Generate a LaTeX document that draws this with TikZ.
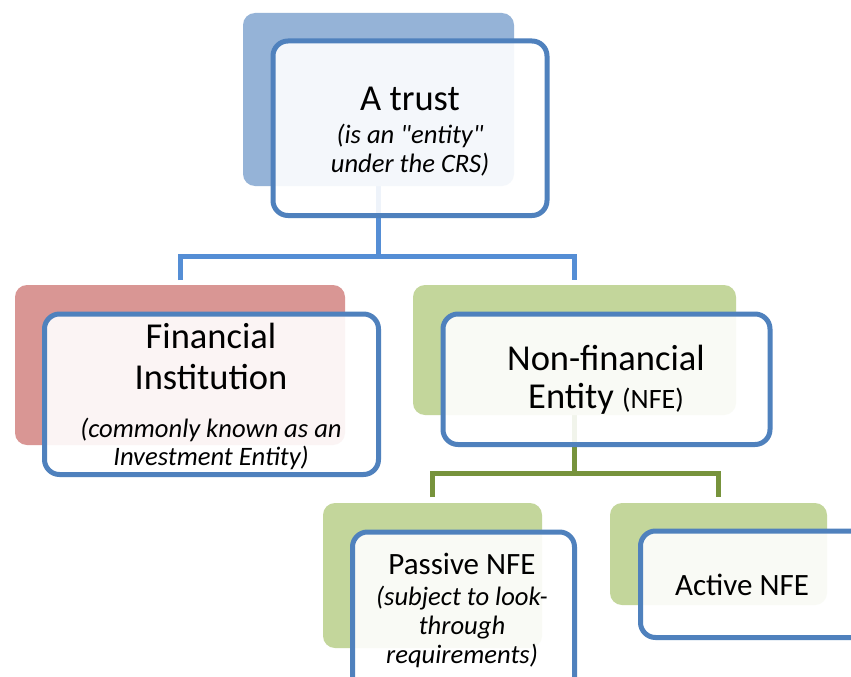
\documentclass[tikz,border=0pt]{standalone}
\usepackage{fontspec}
\newfontfamily\carl{Carlito}
\definecolor{backblue}{HTML}{95B3D7}
\definecolor{backred}{HTML}{D99694}
\definecolor{backgreen}{HTML}{C3D69B}
\definecolor{frontblue}{HTML}{4F81BD}
\definecolor{connblue}{HTML}{558ED5}
\definecolor{conngreen}{HTML}{77933C}
\begin{document}
\begin{tikzpicture}[x=1pt,y=-1pt,
  backbox/.style={rectangle, draw=none, rounded corners=12pt, inner sep=0pt, outer sep=0pt},
  frontbox/.style={rectangle, draw=frontblue, line width=5pt, fill=white, fill opacity=0.9, rounded corners=15pt, inner sep=0pt, outer sep=0pt},
  bconn/.style={draw=connblue, line width=5pt},
  gconn/.style={draw=conngreen, line width=5pt},
  bigtxt/.style={anchor=base, inner sep=0pt, font=\carl\fontsize{36.5}{40}\selectfont},
  midtxt/.style={anchor=base, inner sep=0pt, font=\carl\fontsize{31}{36}\selectfont},
  ittxt/.style={anchor=base, inner sep=0pt, font=\carl\fontsize{26.6}{30}\selectfont\itshape}]
\clip (0,0) rectangle (851,677);
\fill[white] (0,0) rectangle (851,677);
% coordinates for junctions
\coordinate (bj) at (378.5,256.5);
\coordinate (gj) at (574.5,473);
% back boxes (named)
\path (378.5,99.5) node[backbox, minimum width=271pt, minimum height=173pt] (topb) {};
\path (180,365) node[backbox, minimum width=330pt, minimum height=160pt] (fib) {};
\path (574.5,350) node[backbox, minimum width=323pt, minimum height=130pt] (nfeb) {};
\path (432.5,575.5) node[backbox, minimum width=219pt, minimum height=145pt] (pasb) {};
\path (718.5,554) node[backbox, minimum width=217pt, minimum height=102pt] (actb) {};
% connectors
\draw[bconn] (topb.south) -- (bj);
\draw[bconn] ([yshift=5pt]fib.north) |- (bj) -| ([yshift=5pt]nfeb.north);
\draw[gconn] (nfeb.south) -- (gj);
\draw[gconn] ([yshift=6pt]pasb.north) |- (gj) -| ([yshift=6pt]actb.north);
% back fills
\fill[backblue, rounded corners=12pt] (topb.north west) rectangle (topb.south east);
\fill[backred, rounded corners=12pt] (fib.north west) rectangle (fib.south east);
\fill[backgreen, rounded corners=12pt] (nfeb.north west) rectangle (nfeb.south east);
\fill[backgreen, rounded corners=12pt] (pasb.north west) rectangle (pasb.south east);
\fill[backgreen, rounded corners=12pt] (actb.north west) rectangle (actb.south east);
% front boxes
\node[frontbox, minimum width=274pt, minimum height=174.5pt] (topf) at (410,128.25) {};
\node[frontbox, minimum width=334pt, minimum height=160.5pt] (fif) at (211.5,394.25) {};
\node[frontbox, minimum width=327pt, minimum height=130.5pt] (nfef) at (606.5,379.25) {};
\node[frontbox, minimum width=222pt, minimum height=188pt] (pasf) at (463.5,626) {};
\node[frontbox, minimum width=239.5pt, minimum height=106.5pt] (actf) at (760.25,584.25) {};
% texts
\node[bigtxt] (t1) at (410,110) {A trust};
\node[ittxt] (t2) at (410,143) {(is an "entity"};
\node[ittxt] (t3) at (410,172) {under the CRS)};
\node[bigtxt] (f1) at (211,348) {Financial};
\node[bigtxt] (f2) at (211,389) {Institution};
\node[ittxt] (f3) at (211,437) {(commonly known as an};
\node[ittxt] (f4) at (211,465) {Investment Entity)};
\node[bigtxt] (n1) at (606,370) {Non-financial};
\node[bigtxt] (n2) at (606,408) {Entity {\fontsize{28}{32}\selectfont(NFE)}};
\node[midtxt] (p1) at (462,574) {Passive NFE};
\node[ittxt] (p2) at (462,605) {(subject to look-};
\node[ittxt] (p3) at (462,634) {through};
\node[ittxt] (p4) at (462,663) {requirements)};
\node[midtxt] (a1) at (742,595) {Active NFE};
\end{tikzpicture}
\end{document}
